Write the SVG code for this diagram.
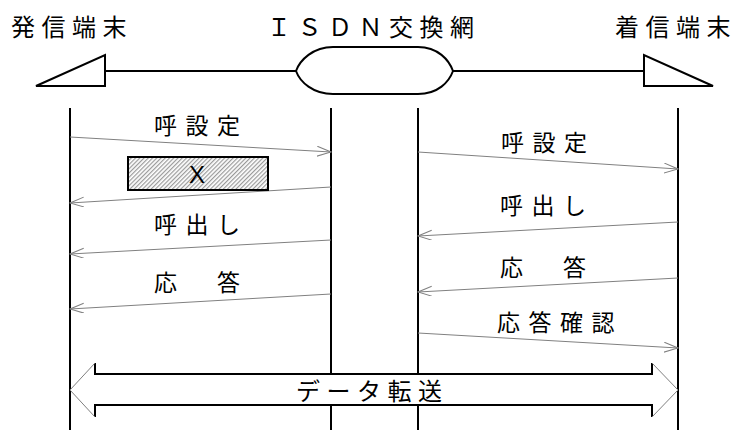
<svg xmlns="http://www.w3.org/2000/svg" width="738" height="430" viewBox="0 0 738 430">
<style>
  .jp { font-family: "Noto Sans CJK JP", "Noto Sans", sans-serif; fill: #000; }
  .title { font-size: 24px; letter-spacing: 6.5px; }
  .lbl { font-size: 23px; letter-spacing: 8.5px; }
  .thick { stroke: #000; stroke-width: 2; fill: none; }
  .msg { stroke: #808080; stroke-width: 1; fill: none; marker-end: url(#ah); }
  .diag { stroke: #808080; stroke-width: 1; fill: none; }
</style>
<defs>
  <marker id="ah" markerUnits="userSpaceOnUse" markerWidth="16" markerHeight="12" refX="14" refY="5" orient="auto" viewBox="0 0 16 12">
    <path d="M0,0 L14,5 L0,10" fill="none" stroke="#808080" stroke-width="1"/>
  </marker>
  <pattern id="hatch" patternUnits="userSpaceOnUse" width="3" height="3" patternTransform="rotate(45)">
    <rect width="3" height="3" fill="#ffffff"/>
    <rect width="1.2" height="3" fill="#9a9a9a"/>
  </pattern>
</defs>
<rect width="738" height="430" fill="#fff"/>

<g id="titles">
  <text class="jp title" x="11" y="36">発信端末</text>
  <text class="jp title" x="267" y="36">ＩＳＤＮ交換網</text>
  <text class="jp title" x="615" y="36">着信端末</text>
</g>

<g id="caller-terminal">
  <polygon class="thick" points="36,86 105,55 105,86"/>
</g>
<g id="isdn-network">
  <path class="thick" d="M333,47 L418,47 C438,47 449,60 453,71 C449,82 438,94 418,94 L333,94 C313,94 300,82 296,71 C300,60 313,47 333,47 Z"/>
</g>
<g id="callee-terminal">
  <polygon class="thick" points="644,55 644,86 713,86"/>
</g>

<g id="lifelines">
  <line class="thick" x1="70" y1="108" x2="70" y2="430"/>
  <line class="thick" x1="331" y1="108" x2="331" y2="430"/>
  <line class="thick" x1="418" y1="108" x2="418" y2="430"/>
  <line class="thick" x1="678" y1="108" x2="678" y2="430"/>
</g>

<g id="connectors">
  <line class="thick" x1="105" y1="71" x2="296" y2="71"/>
  <line class="thick" x1="453" y1="71" x2="644" y2="71"/>
  <line class="msg" x1="70" y1="137" x2="331" y2="152"/>
  <line class="msg" x1="331" y1="187" x2="70" y2="203"/>
  <line class="msg" x1="331" y1="240" x2="70" y2="254"/>
  <line class="msg" x1="331" y1="294" x2="70" y2="309"/>
  <line class="msg" x1="418" y1="152" x2="678" y2="169"/>
  <line class="msg" x1="678" y1="222" x2="418" y2="236"/>
  <line class="msg" x1="678" y1="278" x2="418" y2="292"/>
  <line class="msg" x1="418" y1="333" x2="678" y2="348"/>
</g>

<g id="x-box">
  <rect x="128" y="157" width="140" height="33" fill="url(#hatch)" stroke="#000" stroke-width="2"/>
  <text x="197" y="183" text-anchor="middle" font-family="Liberation Sans, Arial, sans-serif" font-size="24">X</text>
</g>

<g id="labels">
  <text class="jp lbl" x="154" y="134">呼設定</text>
  <text class="jp lbl" x="154" y="233">呼出し</text>
  <text class="jp lbl" x="154" y="291">応　答</text>
  <text class="jp lbl" x="501" y="151">呼設定</text>
  <text class="jp lbl" x="500" y="214">呼出し</text>
  <text class="jp lbl" x="500" y="276">応　答</text>
  <text class="jp lbl" x="497" y="331">応答確認</text>
</g>

<g id="data-transfer">
  <polygon points="70,390 95,363 95,374 652,374 652,363 678,390 652,417 652,405 95,405 95,417" fill="#fff"/>
  <path class="thick" d="M95,363 V374 H652 V363 M95,417 V405 H652 V417"/>
  <path class="diag" d="M95,363 L70,390 L95,417 M652,363 L678,390 L652,417"/>
  <text class="jp title" x="296" y="400">データ転送</text>
</g>
</svg>
